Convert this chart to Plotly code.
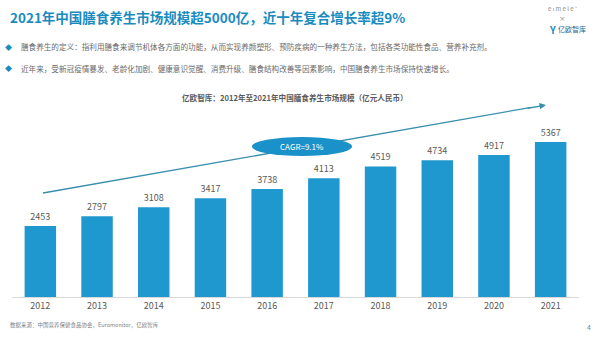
import plotly.graph_objects as go

# ---------------- data ----------------
years = ["2012", "2013", "2014", "2015", "2016", "2017", "2018", "2019", "2020", "2021"]
market_size = [2453, 2797, 3108, 3417, 3738, 4113, 4519, 4734, 4917, 5367]

title_text = "2021年中国膳食养生市场规模超5000亿，近十年复合增长率超9%"
bullet_texts = [
    "膳食养生的定义：指利用膳食来调节机体各方面的功能，从而实现养颜塑形、预防疾病的一种养生方法，包括各类功能性食品、营养补充剂。",
    "近年来，受新冠疫情暴发、老龄化加剧、健康意识觉醒、消费升级、膳食结构改善等因素影响，中国膳食养生市场保持快速增长。",
]
chart_title = "亿欧智库：2012年至2021年中国膳食养生市场规模（亿元人民币）"
source_text = "数据来源：中国营养保健食品协会，Euromonitor，亿欧智库"
cagr_label = "CAGR=9.1%"
page_no = "4"

# ---------------- layout helpers ----------------
W, H = 599, 351
ML, MR, MT, MB = 12, 20, 120, 54
PW, PH = W - ML - MR, H - MT - MB
Y_MAX = 6125


def px(x):
    return (x - ML) / PW


def py(y):
    return (H - MB - y) / PH


FONT = "Noto Sans CJK SC, Noto Sans, sans-serif"
BLUE = "#1f97cf"
TITLE_BLUE = "#1a8bbf"
GRAY = "#595959"

fig = go.Figure()
fig.add_trace(
    go.Bar(
        x=years,
        y=market_size,
        marker=dict(color=BLUE, line=dict(width=0)),
        text=[str(v) for v in market_size],
        textposition="outside",
        textfont=dict(size=9, color=GRAY, family=FONT),
        cliponaxis=False,
        hoverinfo="x+y",
    )
)


def note(x, y, text, size, color, anchor="left", bold=False):
    return dict(x=px(x), y=py(y), xref="paper", yref="paper", xanchor=anchor, yanchor="middle",
                text=("<b>" + text + "</b>") if bold else text, showarrow=False,
                font=dict(size=size, color=color, family=FONT))


annotations = []
# title
annotations.append(note(8, 17, title_text, 13.5, TITLE_BLUE, bold=True))
# bullets
for t, yy in zip(bullet_texts, [47, 68]):
    annotations.append(note(8, yy, "◆", 7, TITLE_BLUE, anchor="center"))
    annotations.append(note(19, yy, t, 7.6, "#6b6b6b"))
# chart subtitle
annotations.append(note(295, 97, chart_title, 7.6, GRAY, anchor="center", bold=True))
# footer
annotations.append(note(8, 325, source_text, 5.5, "#7f7f7f"))
annotations.append(note(593, 327, page_no, 7, "#7f7f7f", anchor="right"))
# logo
annotations.append(note(562, 9, "e ı m e l e °", 6, "#8a8a8a", anchor="center"))
annotations.append(note(562, 18.5, "×", 6.5, "#8a8a8a", anchor="center"))
annotations.append(note(552, 29, "<b>Y</b>", 10, TITLE_BLUE, anchor="center"))
annotations.append(note(572, 29, "亿欧智库", 7, "#1f5f8b", anchor="center"))
# CAGR label
annotations.append(note(302, 146.5, cagr_label, 8, "white", anchor="center"))
# arrow head for trend line
annotations.append(dict(x=px(546), y=py(105), xref="paper", yref="paper", ax=-20, ay=3.5,
                        axref="pixel", ayref="pixel", text="", showarrow=True,
                        arrowhead=2, arrowsize=1, arrowwidth=1.3, arrowcolor="#3a8fad"))

shapes = [
    dict(type="line", xref="paper", yref="paper", x0=px(43), y0=py(193), x1=px(530), y1=py(107.6),
         line=dict(color="#3a8fad", width=1.3), layer="above"),
    dict(type="circle", xref="paper", yref="paper", x0=px(252), x1=px(352), y0=py(156), y1=py(137),
         fillcolor="#1b91c9", line=dict(width=0), layer="above"),
]

fig.update_layout(
    width=W, height=H,
    margin=dict(l=ML, r=MR, t=MT, b=MB, pad=0),
    paper_bgcolor="white", plot_bgcolor="white",
    showlegend=False,
    bargap=0.445,
    xaxis=dict(type="category", showgrid=False, zeroline=False, showline=True, linecolor="#d9d9d9",
               linewidth=1, ticks="", tickfont=dict(size=9, color=GRAY, family=FONT), fixedrange=True),
    yaxis=dict(range=[0, Y_MAX], visible=False, showgrid=False, zeroline=False, fixedrange=True),
    annotations=annotations,
    shapes=shapes,
)

fig.write_html("out.html")
